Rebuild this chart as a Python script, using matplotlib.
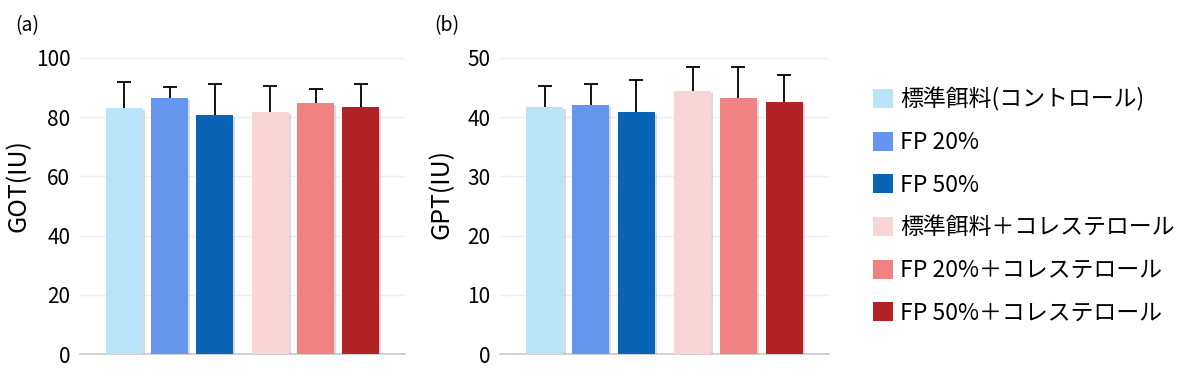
import matplotlib
matplotlib.use("Agg")
import matplotlib.pyplot as plt
import matplotlib.patheffects as pe

plt.rcParams['font.family'] = ['Noto Sans CJK JP', 'DejaVu Sans']

groups = ["標準餌料(コントロール)", "FP 20%", "FP 50%",
          "標準餌料＋コレステロール", "FP 20%＋コレステロール", "FP 50%＋コレステロール"]
colors = ["#BAE4FA", "#6595EC", "#0964B5", "#F9D6D5", "#F08382", "#B22124"]

got_mean = [83.0, 86.6, 80.6, 81.8, 84.7, 83.5]
got_err = [9.0, 3.5, 10.7, 8.8, 4.8, 7.8]
gpt_mean = [41.7, 42.1, 40.9, 44.4, 43.2, 42.6]
gpt_err = [3.6, 3.5, 5.3, 4.1, 5.3, 4.5]

# tag, label, data, y range, axes rect, y-label position
panels = [
    ("(a)", "GOT(IU)", got_mean, got_err, 100, 20, [0.0667, 0.0684, 0.2708, 0.7790], (-0.15, 0.57)),
    ("(b)", "GPT(IU)", gpt_mean, gpt_err, 50, 10, [0.4167, 0.0684, 0.2742, 0.7790], (-0.137, 0.54)),
]

xpos = [0, 1, 2, 3.23, 4.23, 5.23]

fig = plt.figure(figsize=(12, 3.8), dpi=100)
for tag, ylabel, means, errs, ymax, step, rect, lab_xy in panels:
    ax = fig.add_axes(rect)
    bars = ax.bar(xpos, means, width=0.81, color=colors, zorder=3)
    for b in bars:
        b.set_path_effects([pe.SimplePatchShadow(offset=(1.5, -1.5), shadow_rgbFace="#999999", alpha=0.35),
                            pe.Normal()])
    _, caps, _ = ax.errorbar(xpos, means, yerr=[[0] * len(errs), errs], fmt="none",
                             ecolor="black", elinewidth=1.3, capsize=5, capthick=1.3, zorder=4)
    caps[0].set_visible(False)  # only the upper cap
    ax.set_xlim(-0.98, 5.23 + 0.98)
    ax.set_ylim(0, ymax)
    ax.set_yticks(range(0, ymax + 1, step))
    ax.set_xticks([])
    ax.grid(axis="y", color="#EEEEEE", linewidth=1, zorder=0)
    for s in ["top", "right", "left"]:
        ax.spines[s].set_visible(False)
    ax.spines["bottom"].set_color("#C8C8C8")
    ax.spines["bottom"].set_linewidth(1.2)
    ax.tick_params(axis="y", length=0, pad=7, labelsize=15)
    ax.set_ylabel(ylabel, fontsize=18)
    ax.yaxis.set_label_coords(*lab_xy)
    ax.text(-0.2, 1.11, tag, transform=ax.transAxes, fontsize=14, va="center")

handles = [plt.Rectangle((0, 0), 1, 1, facecolor=c, edgecolor="none") for c in colors]
fig.legend(handles, groups, loc="upper left", bbox_to_anchor=(0.71, 0.825),
           frameon=False, fontsize=16.5, handlelength=0.9, handleheight=0.9,
           handletextpad=0.3, labelspacing=0.86)

fig.savefig("out.png", dpi=100)
